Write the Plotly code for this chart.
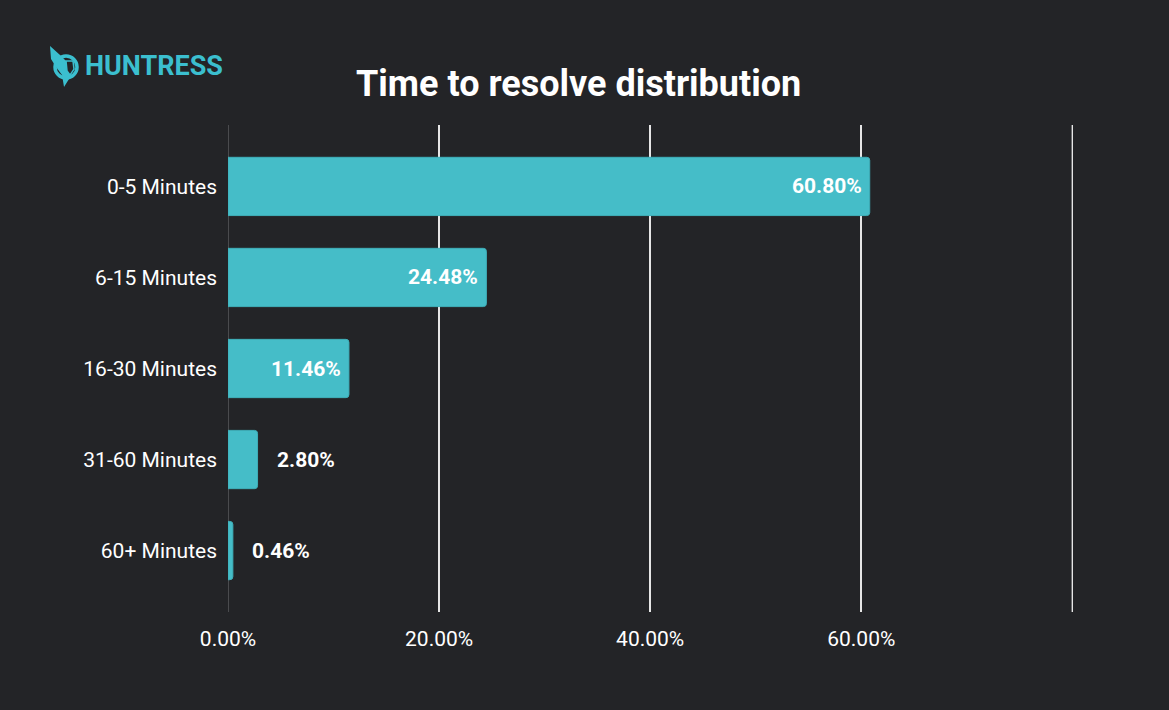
import plotly.graph_objects as go

categories = ["0-5 Minutes", "6-15 Minutes", "16-30 Minutes", "31-60 Minutes", "60+ Minutes"]
values = [60.80, 24.48, 11.46, 2.80, 0.46]
x_ticks = [0, 20, 40, 60, 80]
x_tick_labels = ["0.00%", "20.00%", "40.00%", "60.00%", ""]

BG = "#232427"
BAR = "#45BDC8"
TEAL = "#3BBFCF"

fig = go.Figure()
fig.add_trace(go.Bar(
    y=categories, x=values, orientation="h",
    marker=dict(color=BAR, line=dict(color="#3FAFB9", width=1), cornerradius=3),
    width=0.64, hoverinfo="skip",
))

annotations = []
for c, v in zip(categories, values):
    inside = v > 10
    annotations.append(dict(
        x=v, y=c, xref="x", yref="y", text=f"{v:.2f}%", showarrow=False,
        xanchor="right" if inside else "left", xshift=-6 if inside else 17,
        font=dict(family="Roboto", size=21, color="white", weight="bold"),
    ))

# logo text
annotations.append(dict(
    x=-0.172, y=1.121, xref="paper", yref="paper", xanchor="left", yanchor="middle",
    text="<b>HUNTRESS</b>", showarrow=False,
    font=dict(family="Roboto", size=27, color=TEAL),
))

logo_x = -0.1917
logo_y = 1.119

fig.update_layout(
    width=1169, height=710,
    paper_bgcolor=BG, plot_bgcolor=BG,
    margin=dict(l=228, r=96, t=125, b=98),
    title=dict(text="<b>Time to resolve distribution</b>", x=0.495, xanchor="center",
               y=0.883, yanchor="middle",
               font=dict(family="Roboto", size=36, color="white")),
    showlegend=False,
    annotations=annotations,
    xaxis=dict(range=[0, 80.06], tickvals=x_ticks, ticktext=x_tick_labels,
               showgrid=True, gridcolor="#e6e6e6", gridwidth=1.5,
               zeroline=True, zerolinecolor="#4a4b4e", zerolinewidth=1,
               showline=False, ticks="", ticklabelstandoff=12,
               tickfont=dict(family="Roboto", size=21, color="white"),
               fixedrange=True),
    yaxis=dict(autorange=False, range=[4.675, -0.675], categoryorder="array",
               categoryarray=categories, showgrid=False, zeroline=False,
               ticks="", ticklabelstandoff=10,
               tickfont=dict(family="Roboto", size=21, color="white"),
               fixedrange=True),
    shapes=[
        dict(type="line", xref="x", yref="paper", x0=x_ticks[-1], x1=x_ticks[-1],
             y0=0, y1=1, line=dict(color="#e6e6e6", width=1.5), layer="below"),
        dict(type="circle", xref="paper", yref="paper", xsizemode="pixel", ysizemode="pixel",
             xanchor=logo_x, yanchor=logo_y, x0=-11, x1=11, y0=-11, y1=11,
             line=dict(color=TEAL, width=3.5), fillcolor=BG),
        dict(type="path", xref="paper", yref="paper", xsizemode="pixel", ysizemode="pixel",
             xanchor=logo_x, yanchor=logo_y,
             path="M -16 21 L -6 12 L 2 4 L 6 -4 L 3 -12 L -2 -20 L -4 -8 L -10 0 L -15 8 Z",
             fillcolor=TEAL, line=dict(width=0)),
        dict(type="path", xref="paper", yref="paper", xsizemode="pixel", ysizemode="pixel",
             xanchor=logo_x, yanchor=logo_y,
             path="M 0 6 L 7 6 L 8 -2 L 4 -8 L 1 -4 Z",
             fillcolor=BG, line=dict(color=TEAL, width=1.5)),
    ],
)

fig.write_html("out.html")
